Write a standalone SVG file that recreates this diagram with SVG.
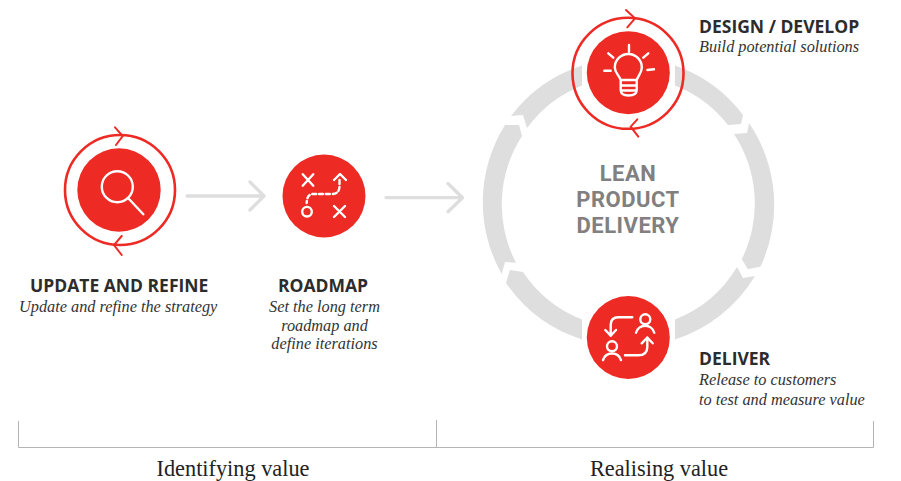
<svg xmlns="http://www.w3.org/2000/svg" width="901" height="481" viewBox="0 0 901 481">
<style>
.ic{fill:none;stroke:#fff;stroke-width:2.4;stroke-linecap:round;stroke-linejoin:round}
.rd{fill:#ee2a24}
.rg{fill:none;stroke:#ee2a24;stroke-width:2.6}
.ar{fill:none;stroke:#ee2a24;stroke-width:2;stroke-linecap:round}
.gr{fill:none;stroke:#dedede;stroke-width:3.3;stroke-linecap:round;stroke-linejoin:round}
.seg{fill:#dedede}
.h{font-family:"Open Sans","Noto Sans",sans-serif;font-weight:700;font-size:17.5px;fill:#2c2c2c}
.d{font-family:"Liberation Serif",serif;font-style:italic;font-size:16.3px;fill:#333}
.m{text-anchor:middle}
.b{font-family:"Liberation Serif",serif;font-size:22.3px;fill:#222;text-anchor:middle}
.c{font-family:Roboto,"Open Sans",sans-serif;font-weight:700;font-size:22px;letter-spacing:.5px;fill:#808080;text-anchor:middle}
</style>
<g id="connectors">
<path class="seg" d="M675 65.500A145 145 0 0 1 743 115L741 124L728 125A126 126 0 0 0 675 85.500Z"/>
<path class="seg" d="M749 123A145.500 145.500 0 0 1 760.500 266.500L748 269.300L741.700 259.300A126 126 0 0 0 734 134L747 133Z"/>
<path class="seg" d="M755 276A145.500 145.500 0 0 1 675 339.500V319.500A126 126 0 0 0 737 267L743 278Z"/>
<path class="seg" d="M582 339.500A145.500 145.500 0 0 1 506 283L510 270L523 272A126 126 0 0 0 582 319.500Z"/>
<path class="seg" d="M501.700 274A145.500 145.500 0 0 1 505 125H519L522 136A126 126 0 0 0 516 262.700L505 262Z"/>
<path class="seg" d="M511 116A145.500 145.500 0 0 1 582 65.500V85.500A126 126 0 0 0 527 128L523 115Z"/>
<path class="gr" d="M187 196H263M250 182L264 196L250 210"/>
<path class="gr" d="M386 197.700H462M448 183.500L462.500 197.700L448 211.700"/>
</g>
<g id="update">
<circle cx="120" cy="190" r="55" class="rg"/>
<circle cx="119" cy="190" r="41.700" class="rd"/>
<path class="ar" d="M115 127.300L122.700 136L116 145M121.700 236L114 245L121.700 255"/>
<circle cx="117.300" cy="186.700" r="15.500" class="ic"/>
<path class="ic" d="M129 199L143.300 214.300"/>
<text x="30" y="292" class="h">UPDATE AND REFINE</text>
<text x="19" y="312" class="d">Update and refine the strategy</text>
</g>
<g id="roadmap">
<circle cx="324" cy="196" r="41.500" class="rd"/>
<path class="ic" d="M302.700 174.300L313.300 185.700M313.300 174.300L302.700 185.700M334 206L345 217M345 206L334 217"/>
<path class="ic" d="M339.500 180V186Q339.500 194 332 194H313Q307 194 306.700 203" stroke-dasharray="4 2.800"/>
<path class="ic" d="M334 180L340 174L346 180"/>
<circle cx="307" cy="211.700" r="4.800" class="ic"/>
<text x="278" y="292" class="h">ROADMAP</text>
<text x="324.500" y="312" class="d m">Set the long term</text>
<text x="324.500" y="331" class="d m">roadmap and</text>
<text x="324.500" y="349" class="d m">define iterations</text>
</g>
<g id="center">
<text class="c"><tspan x="628" y="181">LEAN</tspan><tspan x="628" y="207">PRODUCT</tspan><tspan x="628" y="233">DELIVERY</tspan></text>
</g>
<g id="design">
<circle cx="628" cy="73.300" r="55.500" class="rg"/>
<circle cx="628.300" cy="72.700" r="41.500" class="rd"/>
<path class="ar" d="M626 10L635 18.300L627.300 27.300M637.300 119.300L630.700 126.700L638.300 136.700"/>
<path class="ic" d="M620.700 80C619 75 614.800 73 614.800 67.500A13.500 13.500 0 0 1 641.800 67.500C641.800 73 638.300 75 636.700 80ZM620.700 80V90Q620.700 95.500 628.500 95.500Q636.700 95.500 636.700 90V80M620.700 85.500H636.700M621 90.500H636.300"/>
<path class="ic" d="M629 45V51.700M608.300 53.300L613.300 57.700M648.300 53.300L643.300 57.700M604.300 70.700H610.700M647.300 70L654 69.300"/>
<text x="699" y="33" class="h">DESIGN / DEVELOP</text>
<text x="699" y="52" class="d">Build potential solutions</text>
</g>
<g id="deliver">
<circle cx="628.300" cy="337.500" r="41.500" class="rd"/>
<path class="ic" d="M632.300 317.300H618.300Q610.700 317.300 610.700 325V335.700M605.300 330L610.700 335.700L616 330M625 355.300H638.300Q647.300 355.300 647.300 347V337.500M641.700 343.300L647.300 337.500L652.700 343.300"/>
<circle cx="645.300" cy="319.300" r="5" class="ic"/>
<path class="ic" d="M636 332.700A9.500 9.500 0 0 1 654.300 332.700"/>
<circle cx="612" cy="346.300" r="5" class="ic"/>
<path class="ic" d="M603 360A9.500 9.500 0 0 1 621 360"/>
<text x="699" y="365" class="h">DELIVER</text>
<text x="699" y="385" class="d">Release to customers</text>
<text x="699" y="405" class="d">to test and measure value</text>
</g>
<g id="bracket">
<path d="M18.500 421V447.500H873.500V421M436.500 420V447" fill="none" stroke="#b4b4b4" stroke-width="1"/>
<text x="233" y="476" class="b">Identifying value</text>
<text x="659" y="476" class="b">Realising value</text>
</g>
</svg>
